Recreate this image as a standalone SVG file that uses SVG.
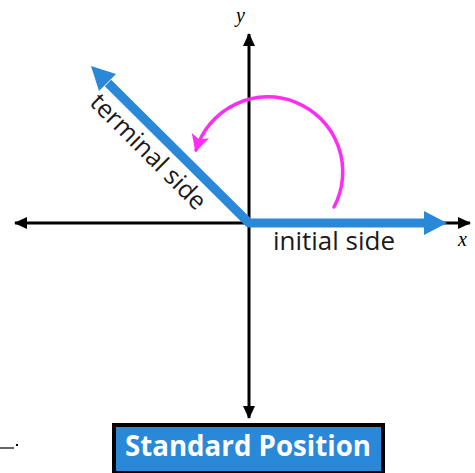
<svg xmlns="http://www.w3.org/2000/svg" width="475" height="473" viewBox="0 0 475 473">
  <style>
    .axis { stroke: #000; stroke-width: 3; fill: none; }
    .ray { stroke: #2a88d8; stroke-width: 9; fill: none; stroke-linejoin: round; stroke-linecap: butt; }
    .head { fill: #2a88d8; }
    .arc { stroke: #ff2cf4; stroke-width: 3.5; fill: none; stroke-linecap: round; }
    .lbl { font-family: "Open Sans", "Noto Sans", sans-serif; font-size: 25px; fill: #1a1a1a; }
    .var { font-family: "Liberation Serif", serif; font-style: italic; font-size: 20px; fill: #000; }
    .title { font-family: "Open Sans", "Noto Sans", sans-serif; font-weight: bold; font-size: 28px; fill: #fff; }
  </style>
  <defs>
    <marker id="ax" markerUnits="userSpaceOnUse" markerWidth="14" markerHeight="14" refX="12" refY="7" orient="auto">
      <path d="M0,1 L13,7 L0,13 Z" fill="#000"/>
    </marker>
    <marker id="mg" markerUnits="userSpaceOnUse" markerWidth="20" markerHeight="20" refX="15" refY="10" orient="auto">
      <path d="M0,1 L17,10 L0,19 L4,10 Z" fill="#ff2cf4"/>
    </marker>
  </defs>
  <g id="connectors">
    <line class="axis" x1="249" y1="223" x2="470" y2="223" marker-end="url(#ax)"/>
    <line class="axis" x1="249" y1="223" x2="15" y2="223" marker-end="url(#ax)"/>
    <line class="axis" x1="249" y1="223" x2="249" y2="34" marker-end="url(#ax)"/>
    <line class="axis" x1="249" y1="223" x2="249" y2="418" marker-end="url(#ax)"/>
    <path class="ray" d="M108,83 L249,223 L426,223"/>
    <polygon class="head" points="447,223 424,211 424,235"/>
    <polygon class="head" points="91,66 116,74 99,91"/>
    <path class="arc" d="M334,207 A75,75 0 1 0 196,150" marker-end="url(#mg)"/>
  </g>
  <g id="labels">
    <text class="var" x="236" y="22">y</text>
    <text class="var" x="458" y="246">x</text>
    <text class="lbl" x="273" y="250" textLength="122" lengthAdjust="spacingAndGlyphs">initial side</text>
    <text class="lbl" transform="translate(148,152) rotate(45)" text-anchor="middle" y="8">terminal side</text>
  </g>
  <g id="title">
    <rect x="114" y="425" width="269" height="48" fill="#2a88d8" stroke="#000" stroke-width="4"/>
    <text class="title" x="248" y="456" text-anchor="middle" textLength="246" lengthAdjust="spacingAndGlyphs">Standard Position</text>
  </g>
  <g id="mark">
    <line x1="0" y1="448" x2="14" y2="448" stroke="#000" stroke-width="1.2"/>
    <rect x="16" y="444" width="2" height="2" fill="#000"/>
  </g>
</svg>
